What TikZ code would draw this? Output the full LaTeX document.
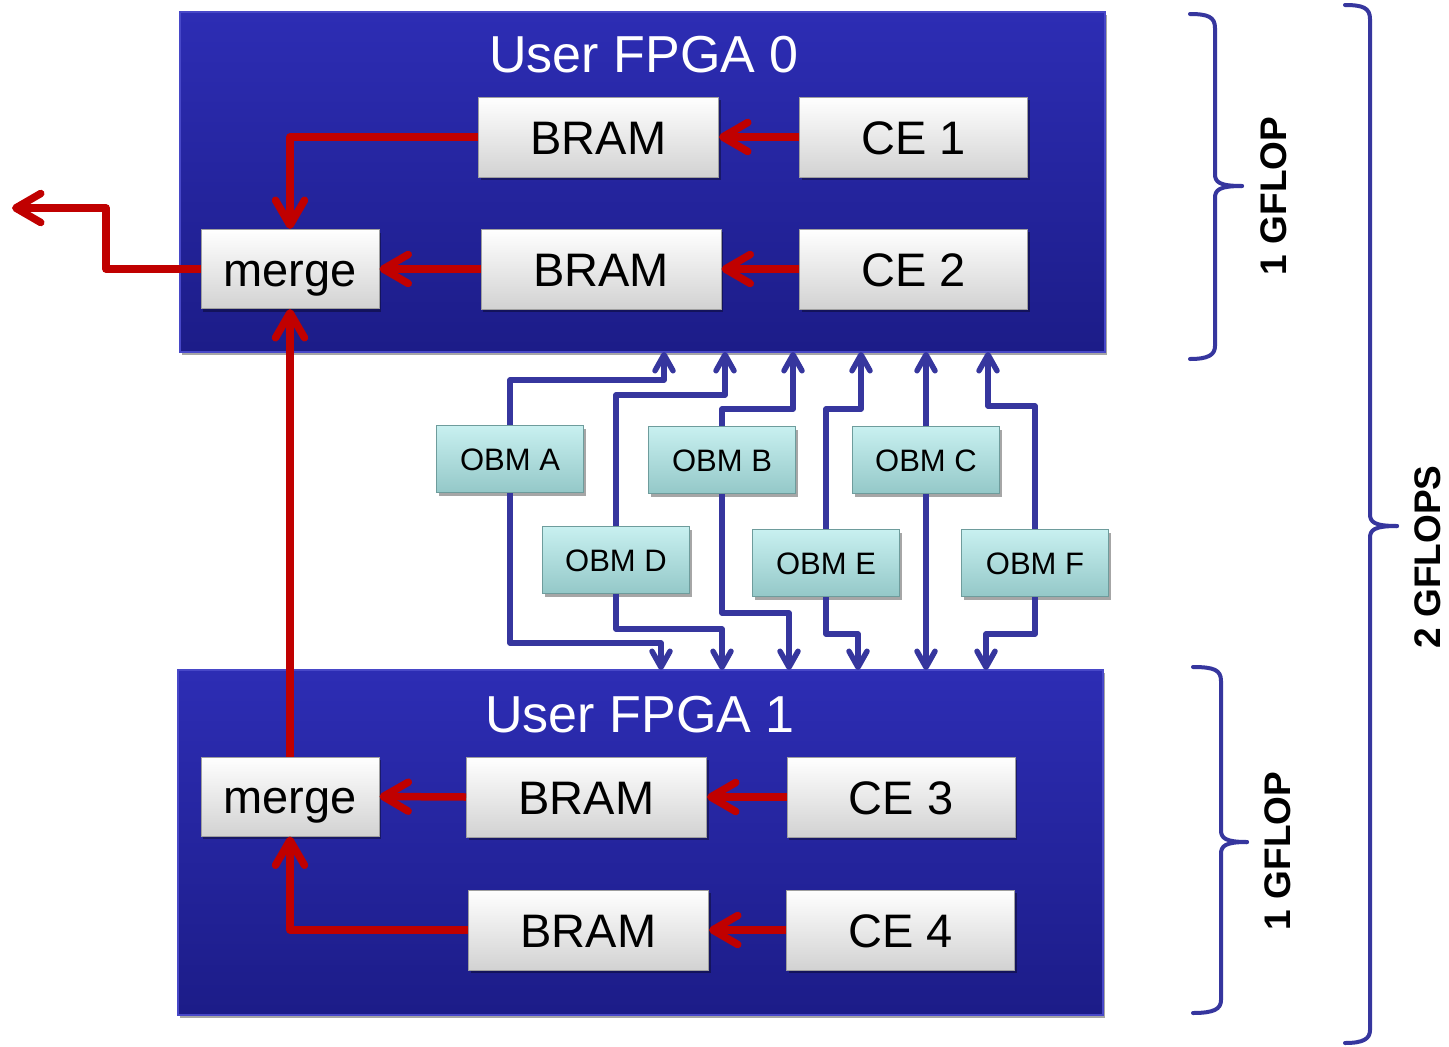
\documentclass[tikz,border=0pt]{standalone}
\usepackage{fontspec}
\setmainfont{Liberation Sans}
\usetikzlibrary{arrows.meta,shadows}
\definecolor{fpgatop}{HTML}{2D2DB4}
\definecolor{fpgabot}{HTML}{1C1C88}
\definecolor{fpgaedge}{HTML}{4848C8}
\definecolor{redc}{HTML}{C00000}
\definecolor{bluec}{HTML}{36369E}
\definecolor{obmtop}{HTML}{C8F0F0}
\definecolor{obmbot}{HTML}{94C8C8}
\definecolor{obmedge}{HTML}{6E9C9C}
\definecolor{boxbot}{HTML}{D2D2D2}
\begin{document}
\begin{tikzpicture}[x=1pt,y=-1pt,
  shad/.style={drop shadow={shadow xshift=2pt,shadow yshift=-3pt,opacity=0.35,fill=black}},
  fpga/.style={draw=fpgaedge,line width=1.2pt,top color=fpgatop,bottom color=fpgabot,inner sep=0pt,shad},
  ttl/.style={text=white,font=\fontsize{52}{56}\selectfont,inner sep=0pt,text height=37pt,text depth=0pt},
  wbox/.style={draw=gray!75,line width=1pt,top color=white,bottom color=boxbot,minimum height=80,inner sep=0pt,font=\fontsize{47}{50}\selectfont,text height=34pt,text depth=0pt,shad},
  obm/.style={draw=obmedge,line width=1pt,top color=obmtop,bottom color=obmbot,minimum width=147,minimum height=67,inner sep=0pt,font=\fontsize{31}{34}\selectfont,text height=22pt,text depth=0pt,shad},
  rl/.style={draw=redc,line width=7.5pt,line join=round,-{Straight Barb[round,length=25pt,width=29pt]}},
  bl/.style={draw=bluec,line width=5.5pt,line join=round,-{Straight Barb[round,length=16pt,width=18pt]}},
  brc/.style={draw=bluec,line width=4pt,line cap=round,line join=round},
  gf/.style={font=\bfseries\fontsize{37}{40}\selectfont,rotate=90,inner sep=0pt,text height=27pt,text depth=0pt}]
\fill[white] (0,0) rectangle (1449,1047);
\useasboundingbox (0,0) rectangle (1449,1047);

% FPGA boxes
\node[fpga,minimum width=925,minimum height=340] (fpga0) at (642.5,182) {};
\node[fpga,minimum width=925,minimum height=345] (fpga1) at (640.5,842.5) {};
\node[ttl] (t0) at (644,54) {User FPGA 0};
\node[ttl] (t1) at (640,714) {User FPGA 1};

% white boxes
\node[wbox,minimum width=240] (bram1) at (598.5,137) {BRAM};
\node[wbox,minimum width=228] (ce1) at (913.5,137) {CE 1};
\node[wbox,minimum width=178,minimum height=79] (merge0) at (290,269) {merge};
\node[wbox,minimum width=240] (bram2) at (601,269) {BRAM};
\node[wbox,minimum width=228] (ce2) at (913.5,269) {CE 2};
\node[wbox,minimum width=178,minimum height=79] (merge1) at (290,796.5) {merge};
\node[wbox,minimum width=240] (bram3) at (586.5,797) {BRAM};
\node[wbox,minimum width=228] (ce3) at (901,797) {CE 3};
\node[wbox,minimum width=240] (bram4) at (588.5,930) {BRAM};
\node[wbox,minimum width=228] (ce4) at (900.5,930) {CE 4};

% OBMs
\node[obm] (obmA) at (510,459) {OBM A};
\node[obm] (obmB) at (722,460) {OBM B};
\node[obm] (obmC) at (926,460) {OBM C};
\node[obm] (obmD) at (616,560) {OBM D};
\node[obm] (obmE) at (826,563) {OBM E};
\node[obm] (obmF) at (1035,563) {OBM F};

% red connectors
\coordinate (bend) at (106,208);
\coordinate (out) at (12,208);
\draw[rl] (ce1.west) -- (bram1.east);
\draw[rl] (ce2.west) -- (bram2.east);
\draw[rl] (bram1.west) -| (merge0.north);
\draw[rl] (bram2.west) -- (merge0.east);
\draw[rl] (merge0.west) -| (bend) -- (out);
\draw[rl] (merge1.north) -- (merge0.south);
\draw[rl] (ce3.west) -- (bram3.east);
\draw[rl] (ce4.west) -- (bram4.east);
\draw[rl] (bram3.west) -- (merge1.east);
\draw[rl] (bram4.west) -| (merge1.south);

% blue connectors
\coordinate (uA) at (664,352);
\coordinate (uD) at (725,352);
\coordinate (uB) at (793,352);
\coordinate (uE) at (861,352);
\coordinate (uC) at (926,352);
\coordinate (uF) at (988,352);
\coordinate (dA) at (661,670);
\coordinate (dD) at (722,670);
\coordinate (dB) at (789,670);
\coordinate (dE) at (858,670);
\coordinate (dC) at (926,670);
\coordinate (dF) at (986,670);
\draw[bl] (obmA.north) |- (uA |- 0,380) -- (uA);
\draw[bl] (obmD.north) |- (uD |- 0,395) -- (uD);
\draw[bl] (obmB.north) |- (uB |- 0,409) -- (uB);
\draw[bl] (obmE.north) |- (uE |- 0,409) -- (uE);
\draw[bl] (obmC.north) -- (uC);
\draw[bl] (obmF.north) |- (uF |- 0,406) -- (uF);
\draw[bl] (obmA.south) |- (dA |- 0,643) -- (dA);
\draw[bl] (obmD.south) |- (dD |- 0,629) -- (dD);
\draw[bl] (obmB.south) |- (dB |- 0,613) -- (dB);
\draw[bl] (obmE.south) |- (dE |- 0,634) -- (dE);
\draw[bl] (obmC.south) -- (dC);
\draw[bl] (obmF.south) |- (dF |- 0,634) -- (dF);

% braces
\draw[brc] (1190,14) .. controls (1208,14) and (1215,17) .. (1215,28) -- (1215,174) .. controls (1215,182) and (1219,186) .. (1242,186);
\draw[brc] (1242,186) .. controls (1219,186) and (1215,190) .. (1215,198) -- (1215,346) .. controls (1215,355) and (1208,359) .. (1190,359);
\draw[brc] (1193,667) .. controls (1214,667) and (1221,670) .. (1221,681) -- (1221,830) .. controls (1221,838) and (1225,842) .. (1247,842);
\draw[brc] (1247,842) .. controls (1225,842) and (1221,846) .. (1221,854) -- (1221,1000) .. controls (1221,1009) and (1214,1013) .. (1193,1013);
\draw[brc] (1345,5) .. controls (1363,5) and (1370,8) .. (1370,19) -- (1370,514) .. controls (1370,522) and (1374,526) .. (1397,526);
\draw[brc] (1397,526) .. controls (1374,526) and (1370,530) .. (1370,538) -- (1370,1030) .. controls (1370,1039) and (1363,1043) .. (1345,1043);

\node[gf] (g1) at (1273,196) {1 GFLOP};
\node[gf] (g2) at (1277,851) {1 GFLOP};
\node[gf] (g3) at (1427,557) {2 GFLOPS};
\end{tikzpicture}
\end{document}
